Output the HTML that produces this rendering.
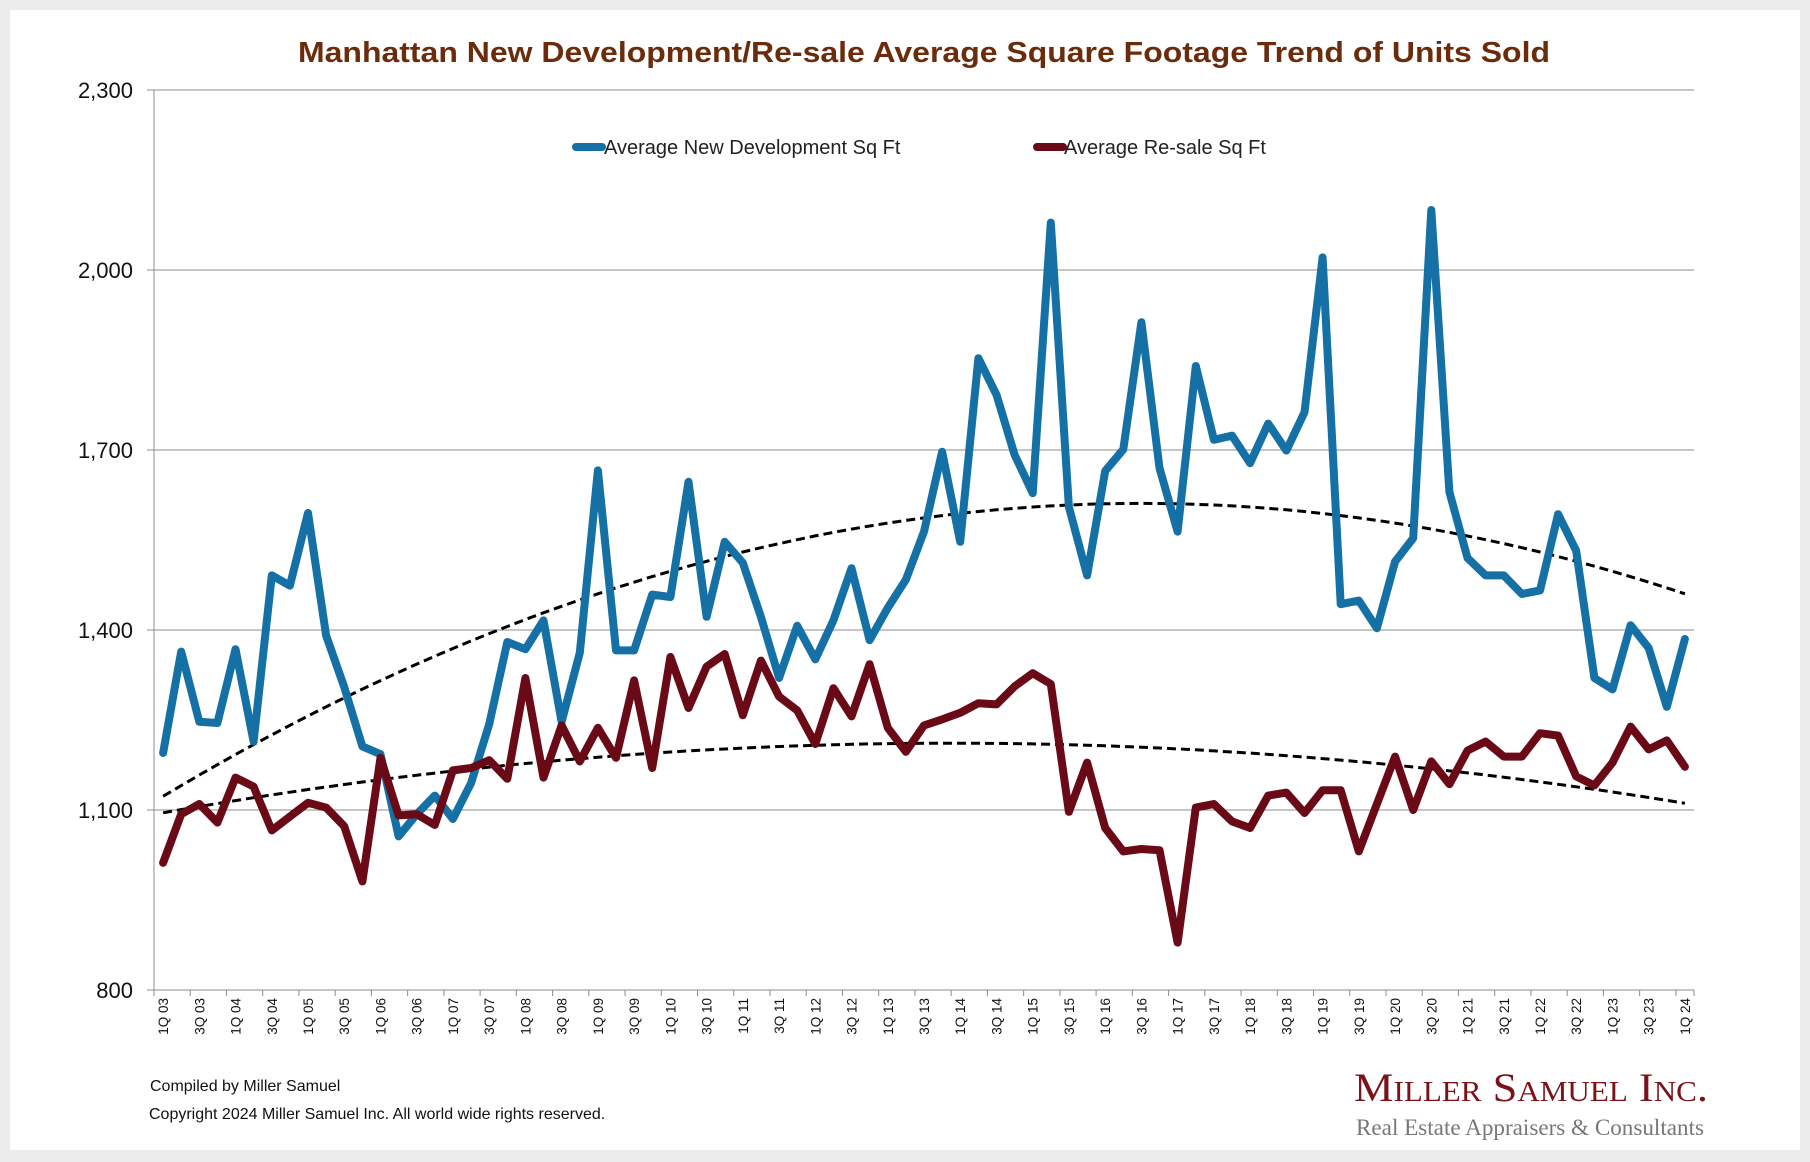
<!DOCTYPE html>
<html><head><meta charset="utf-8">
<style>
html,body{margin:0;padding:0;background:#ececec;}
#wrap{position:relative;width:1810px;height:1162px;background:#ececec;overflow:hidden;}
#panel{position:absolute;left:10px;top:10px;width:1790px;height:1140px;background:#fff;}
svg{position:absolute;left:0;top:0;}
text{font-family:"Liberation Sans",sans-serif;}
</style></head>
<body>
<div id="wrap">
<div id="panel"></div>
<svg id="chart" width="1810" height="1162">
<text x="924" y="62" text-anchor="middle" font-size="29" font-weight="bold" fill="#6b2c0c" textLength="1252" lengthAdjust="spacingAndGlyphs">Manhattan New Development/Re-sale Average Square Footage Trend of Units Sold</text>
<g id="grid"></g><g id="xaxis"></g><g id="trends"></g><g id="series"></g>
<g>
<g>
<line x1="576" y1="147" x2="602" y2="147" stroke="#1570a6" stroke-width="8" stroke-linecap="round"/>
<text x="604" y="154" font-size="20" fill="#222">Average New Development Sq Ft</text></g>
<g>
<line x1="1037" y1="147" x2="1063" y2="147" stroke="#6b0a17" stroke-width="8" stroke-linecap="round"/>
<text x="1064" y="154" font-size="20" fill="#222">Average Re-sale Sq Ft</text></g>
</g>
<text x="150" y="1091" font-size="16" fill="#111">Compiled by Miller Samuel</text>
<text x="149" y="1119" font-size="16" fill="#111">Copyright 2024 Miller Samuel Inc.  All world wide rights reserved.</text>
<text x="1354" y="1101" font-size="40" fill="#7a1218" style="font-variant:small-caps;font-family:'Liberation Serif',serif" textLength="354" lengthAdjust="spacingAndGlyphs">Miller Samuel Inc.</text>
<text x="1356" y="1135" font-size="23" fill="#777" style="font-family:'Liberation Serif',serif" textLength="348" lengthAdjust="spacingAndGlyphs">Real Estate Appraisers &amp; Consultants</text>
</svg>
</div>
<script>
const newDev = [1195,1364,1247,1245,1368,1214,1491,1474,1595,1391,1305,1206,1193,1056,1093,1124,1085,1145,1243,1380,1368,1416,1247,1362,1666,1366,1366,1459,1455,1647,1422,1547,1512,1422,1320,1407,1351,1416,1503,1383,1437,1484,1564,1697,1547,1853,1792,1692,1628,2079,1605,1491,1665,1701,1913,1670,1564,1840,1717,1724,1678,1744,1699,1763,2021,1443,1449,1403,1514,1553,2100,1630,1520,1491,1491,1460,1466,1593,1532,1320,1301,1408,1370,1272,1385];
const resale = [1012,1093,1110,1079,1154,1139,1066,1089,1112,1104,1073,981,1187,1091,1093,1075,1166,1170,1183,1152,1320,1154,1241,1181,1237,1187,1316,1170,1355,1270,1339,1360,1258,1349,1289,1266,1210,1303,1256,1343,1237,1197,1241,1251,1262,1278,1276,1306,1328,1310,1097,1179,1070,1031,1035,1033,879,1104,1110,1081,1070,1124,1129,1095,1133,1133,1031,1110,1189,1100,1181,1143,1199,1214,1189,1189,1228,1224,1156,1141,1179,1239,1201,1216,1172];
const yTicks = [800,1100,1400,1700,2000,2300];
const yTickLabels = ["800","1,100","1,400","1,700","2,000","2,300"];
const quarters = [];
for (let yr=3; yr<=24; yr++) for (let q=1;q<=4;q++){ if(yr===24&&q>1)break; quarters.push(q+"Q "+String(yr).padStart(2,"0")); }

const NS="http://www.w3.org/2000/svg";
const L=154,R=1694,T=90,B=990,yMin=800,yMax=2300;
const n=quarters.length, step=(R-L)/n;
const xs=i=>L+step*(i+0.5);
const ys=v=>B-(v-yMin)/(yMax-yMin)*(B-T);
function mk(tag,attrs,parent){const e=document.createElementNS(NS,tag);for(const k in attrs)e.setAttribute(k,attrs[k]);parent.appendChild(e);return e;}

const grid=document.getElementById('grid');
yTicks.forEach((v,i)=>{
  const y=ys(v);
  const ln=mk('line',{x1:L-7,x2:R,y1:y,y2:y,stroke:'#8c8c8c','stroke-width':1},grid);
  
  
  const t=mk('text',{x:L-21,y:y+8,'text-anchor':'end','font-size':22,fill:'#111'},grid);
  t.textContent=yTickLabels[i];
  
  
});
const ya=mk('line',{x1:L,x2:L,y1:T,y2:B,stroke:'#8c8c8c','stroke-width':1},grid);



const xa=document.getElementById('xaxis');
const xl=mk('line',{x1:L,x2:R,y1:B,y2:B,stroke:'#8c8c8c','stroke-width':1},xa);


for(let i=0;i<=n;i++){ if(i%2===0||i===n){const x=L+step*i; const tk=mk('line',{x1:x,x2:x,y1:B,y2:B+6,stroke:'#8c8c8c'},xa);  } }
quarters.forEach((q,i)=>{
  if(i%2) return;
  const x=xs(i)+5, y=B+8;
  const t=mk('text',{x:x,y:y,'text-anchor':'end','font-size':13.5,fill:'#111',transform:`rotate(-90 ${x} ${y})`},xa);
  t.textContent=q;
  
  
});

function polyfit2(vals){
  let S=[0,0,0,0,0],Ty=[0,0,0];
  vals.forEach((v,i)=>{const x=i+1;let p=1;for(let k=0;k<5;k++){S[k]+=p;if(k<3)Ty[k]+=p*v;p*=x;}});
  const A=[[S[0],S[1],S[2],Ty[0]],[S[1],S[2],S[3],Ty[1]],[S[2],S[3],S[4],Ty[2]]];
  for(let c=0;c<3;c++){for(let r=c+1;r<3;r++){const f=A[r][c]/A[c][c];for(let k=c;k<4;k++)A[r][k]-=f*A[c][k];}}
  const s=[0,0,0];for(let r=2;r>=0;r--){let v=A[r][3];for(let k=r+1;k<3;k++)v-=A[r][k]*s[k];s[r]=v/A[r][r];}
  return s;
}
const tr=document.getElementById('trends');
[[newDev,'trend-new-development'],[resale,'trend-resale']].forEach(([vals,name])=>{
  const c=polyfit2(vals);
  const pts=vals.map((_,i)=>{const x=i+1;return xs(i).toFixed(1)+','+ys(c[0]+c[1]*x+c[2]*x*x).toFixed(1);}).join(' ');
  const p=mk('polyline',{points:pts,fill:'none',stroke:'#000','stroke-width':3,'stroke-dasharray':'9,5'},tr);
  
  
});

const sg=document.getElementById('series');
[[newDev,'#1570a6','line-new-development'],[resale,'#6b0a17','line-resale']].forEach(([vals,col,name])=>{
  const pts=vals.map((v,i)=>xs(i).toFixed(1)+','+ys(v).toFixed(1)).join(' ');
  const p=mk('polyline',{points:pts,fill:'none',stroke:col,'stroke-width':8,'stroke-linejoin':'round','stroke-linecap':'round'},sg);
  
  
});
</script>
</body></html>
